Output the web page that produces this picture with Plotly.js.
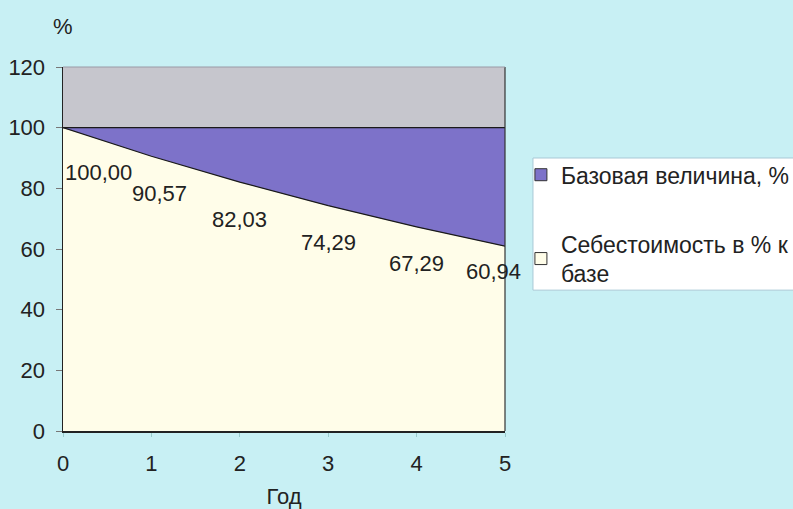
<!DOCTYPE html>
<html>
<head>
<meta charset="utf-8">
<script src="https://cdn.plot.ly/plotly-3.0.1.min.js"></script>
<style>html,body{margin:0;padding:0;background:#c8f0f4;}#chart{width:793px;height:509px;}</style>
</head>
<body>
<div id="chart"></div>
<script>
var years = [0, 1, 2, 3, 4, 5];
var baseValues = [100, 100, 100, 100, 100, 100];
var costValues = [100.00, 90.57, 82.03, 74.29, 67.29, 60.94];
var costLabels = ["100,00", "90,57", "82,03", "74,29", "67,29", "60,94"];
var baseName = "Базовая величина, %";
var costName = "Себестоимость в % к<br>базе";

var FONT = "Liberation Sans, Arial, sans-serif";
var baseColor = "#7d72c9";
var costColor = "#fffde9";

var traces = [
  {
    x: years, y: costValues, type: "scatter", mode: "lines",
    fill: "tozeroy", fillcolor: costColor, showlegend: false,
    line: {color: "#1a1a1a", width: 1.2}, hoverinfo: "skip"
  },
  {
    x: years, y: baseValues, type: "scatter", mode: "lines",
    fill: "tonexty", fillcolor: baseColor, showlegend: false,
    line: {color: "#1a1a1a", width: 1.2}, hoverinfo: "skip"
  },
  {
    x: [null], y: [null], type: "scatter", mode: "markers", name: baseName,
    legendgroup: "b",
    marker: {symbol: "square", size: 12, color: baseColor, line: {color: "#333", width: 1}}
  },
  {
    x: [null], y: [null], type: "scatter", mode: "markers", name: costName,
    legendgroup: "c",
    marker: {symbol: "square", size: 12, color: costColor, line: {color: "#333", width: 1}}
  }
];

var last = costLabels.length - 1;
var anns = costLabels.map(function (t, i) {
  var a = {
    x: years[i], y: costValues[i], text: t, showarrow: false,
    xref: "x", yref: "y", yshift: -37,
    font: {family: FONT, size: 22, color: "#222"},
    xanchor: "center"
  };
  if (i === 0) { a.xanchor = "left"; a.yshift = -45; }
  else if (i === last) { a.xshift = -12; a.yshift = -25; }
  else if (i === 1) { a.xshift = 8; }
  return a;
});
anns.push({
  xref: "paper", yref: "paper", x: 0, y: 1, yshift: 26, text: "%", showarrow: false,
  xanchor: "center", yanchor: "bottom",
  font: {family: FONT, size: 22, color: "#222"}
});

var layout = {
  width: 793, height: 509,
  margin: {l: 63, r: 288, t: 67, b: 78, autoexpand: false},
  paper_bgcolor: "#c8f0f4",
  plot_bgcolor: "#c6c6cd",
  showlegend: true,
  font: {family: FONT, size: 22, color: "#222"},
  xaxis: {
    range: [0, 5], tickvals: years, ticktext: years.map(String),
    showgrid: false, zeroline: false, showline: true, linecolor: "#222", linewidth: 1.5,
    ticks: "outside", ticklen: 4, tickcolor: "#9cc", ticklabelstandoff: 8,
    title: {text: "Год", font: {size: 22, color: "#222"}, standoff: 16},
    tickfont: {size: 22, color: "#222"}
  },
  yaxis: {
    range: [0, 120], dtick: 20, showgrid: false, zeroline: false,
    showline: true, linecolor: "#222", linewidth: 1.5,
    ticks: "outside", ticklen: 6, tickcolor: "#777", ticklabelstandoff: 6,
    tickfont: {size: 22, color: "#222"}
  },
  legend: {
    x: 1.036, y: 0.763, xanchor: "left", yanchor: "top",
    bgcolor: "rgba(0,0,0,0)", borderwidth: 0,
    traceorder: "grouped", tracegroupgap: 36,
    font: {family: FONT, size: 23, color: "#222"}, itemwidth: 30
  },
  shapes: [
    {type: "rect", xref: "paper", yref: "paper", x0: 1.0633, x1: 1.75, y0: 0.387, y1: 0.75,
     fillcolor: "#ffffff", line: {color: "#a9c9d6", width: 1}, layer: "below"},
    {type: "line", xref: "paper", yref: "paper", x0: 1, x1: 1, y0: 0, y1: 1,
     line: {color: "#333", width: 1.2}},
    {type: "line", xref: "paper", yref: "paper", x0: 0, x1: 1, y0: 1, y1: 1,
     line: {color: "#9a9aa6", width: 1}}
  ],
  annotations: anns
};

Plotly.newPlot("chart", traces, layout, {displayModeBar: false, staticPlot: true});
</script>
</body>
</html>
